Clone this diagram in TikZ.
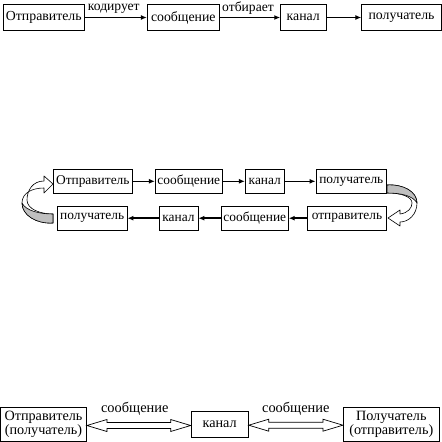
\documentclass[tikz,border=0pt]{standalone}
\usepackage{fontspec}
\setmainfont{Liberation Serif}
\usetikzlibrary{calc,arrows.meta}
\begin{document}
\begin{tikzpicture}[x=1pt,y=-1pt,
  box/.style={draw, line width=0.8pt, inner sep=0pt, align=center,
    font=\fontsize{13.8}{15}\selectfont},
  midbox/.style={box, font=\fontsize{13.4}{15}\selectfont},
  lowbox/.style={box, font=\fontsize{14.2}{14.6}\selectfont},
  lbl/.style={inner sep=0pt, font=\fontsize{13.6}{14}\selectfont},
  conn/.style={-{Latex[length=6pt,width=5pt]}, line width=1.5pt},
  ribbon/.style={draw, fill=white, line width=0.6pt, line join=round},
  shade/.style={draw, fill=black!25, line width=0.6pt, line join=round},
  hollow/.style={draw, fill=white, line width=0.7pt, line join=miter}]
\useasboundingbox (0,0) rectangle (442,442);
% top row
\node[box, minimum width=81, minimum height=25.6] (A1) at (43.8,17.5) {Отправитель};
\node[box, minimum width=72, minimum height=25.6] (A2) at (183.3,17.5) {сообщение};
\node[box, minimum width=45.3, minimum height=25.6] (A3) at (303.3,17.5) {канал};
\node[box, minimum width=79.5, minimum height=25.6] (A4) at (401.5,17.5) {получатель};
\draw[conn] (A1) -- (A2);
\draw[conn] (A2) -- (A3);
\draw[conn] (A3) -- (A4);
\node[lbl] (L1) at ($(A1.east)!0.5!(A2.west)+(-2,-9)$) {кодирует};
\node[lbl] (L2) at ($(A2.east)!0.5!(A3.west)+(-2,-9)$) {отбирает};
% middle rows
\node[midbox, minimum width=79, minimum height=24] (B1) at (92.8,181.3) {Отправитель};
\node[midbox, minimum width=67, minimum height=24] (B2) at (188.8,181.3) {сообщение};
\node[midbox, minimum width=39, minimum height=24] (B3) at (264.8,181.3) {канал};
\node[midbox, minimum width=70.7, minimum height=24] (B4) at (351.3,181.3) {получатель};
\draw[conn] (B1) -- (B2);
\draw[conn] (B2) -- (B3);
\draw[conn] (B3) -- (B4);
\node[midbox, minimum width=69.7, minimum height=23.7] (C1) at (92.2,218.2) {получатель};
\node[midbox, minimum width=39, minimum height=23.7] (C2) at (178.5,218.2) {канал};
\node[midbox, minimum width=67, minimum height=23.7] (C3) at (254.8,218.2) {сообщение};
\node[midbox, minimum width=79.4, minimum height=23.7] (C4) at (347,218.2) {отправитель};
\draw[conn] (C4) -- (C3);
\draw[conn] (C3) -- (C2);
\draw[conn] (C2) -- (C1);
% left ribbon arrow
\path[ribbon] (53,223) .. controls (36,224) and (22,215) .. (22,203)
  .. controls (22,193) and (32,188) .. (44,188)
  -- (44,193) -- (53,184) -- (44,176) -- (44,181)
  .. controls (33,181) and (27,190) .. (27,200)
  .. controls (27,209) and (40,214) .. (53,214) -- cycle;
\path[shade] (53,223) .. controls (36,224) and (22,215) .. (22,203)
  .. controls (26,211) and (40,214) .. (53,214) -- cycle;
% right ribbon arrow
\path[ribbon] (387,185) .. controls (404,184) and (417,192) .. (417,203)
  .. controls (417,214) and (409,222) .. (400,222)
  -- (400,226) -- (388,218) -- (400,210) -- (400,214)
  .. controls (408,213) and (412,208) .. (412,203)
  .. controls (412,197) and (402,193) .. (387,193) -- cycle;
\path[shade] (387,185) .. controls (404,184) and (417,192) .. (417,203)
  .. controls (413,196) and (402,193) .. (387,193) -- cycle;
% bottom row
\node[lowbox, minimum width=86, minimum height=34.4] (D1) at (43.5,424.5) {Отправитель\\(получатель)};
\node[lowbox, minimum width=57.3, minimum height=26.3] (D2) at (219.7,424.2) {канал};
\node[lowbox, minimum width=96, minimum height=34.4] (D3) at (391.3,424.5) {Получатель\\(отправитель)};
\draw[hollow] let \p1=(D1.east), \p2=(D2.west) in
  (\x1,\y1-1pt) -- (\x1+20pt,\y1+5pt) -- (\x1+20pt,\y1+2pt) -- (\x2-20pt,\y1+2pt)
  -- (\x2-20pt,\y1+5pt) -- (\x2,\y1-1pt) -- (\x2-20pt,\y1-7pt) -- (\x2-20pt,\y1-4pt)
  -- (\x1+20pt,\y1-4pt) -- (\x1+20pt,\y1-7pt) -- cycle;
\draw[hollow] let \p1=(D2.east), \p2=(D3.west) in
  (\x1,\y1-1pt) -- (\x1+20pt,\y1+5pt) -- (\x1+20pt,\y1+2pt) -- (\x2-20pt,\y1+2pt)
  -- (\x2-20pt,\y1+5pt) -- (\x2,\y1-1pt) -- (\x2-20pt,\y1-7pt) -- (\x2-20pt,\y1-4pt)
  -- (\x1+20pt,\y1-4pt) -- (\x1+20pt,\y1-7pt) -- cycle;
\node[lbl, font=\fontsize{14.4}{15}\selectfont] (M1) at ($(D1.east)!0.5!(D2.west)+(-4,-16)$) {сообщение};
\node[lbl, font=\fontsize{14.4}{15}\selectfont] (M2) at ($(D2.east)!0.5!(D3.west)+(0,-16)$) {сообщение};
\end{tikzpicture}
\end{document}
